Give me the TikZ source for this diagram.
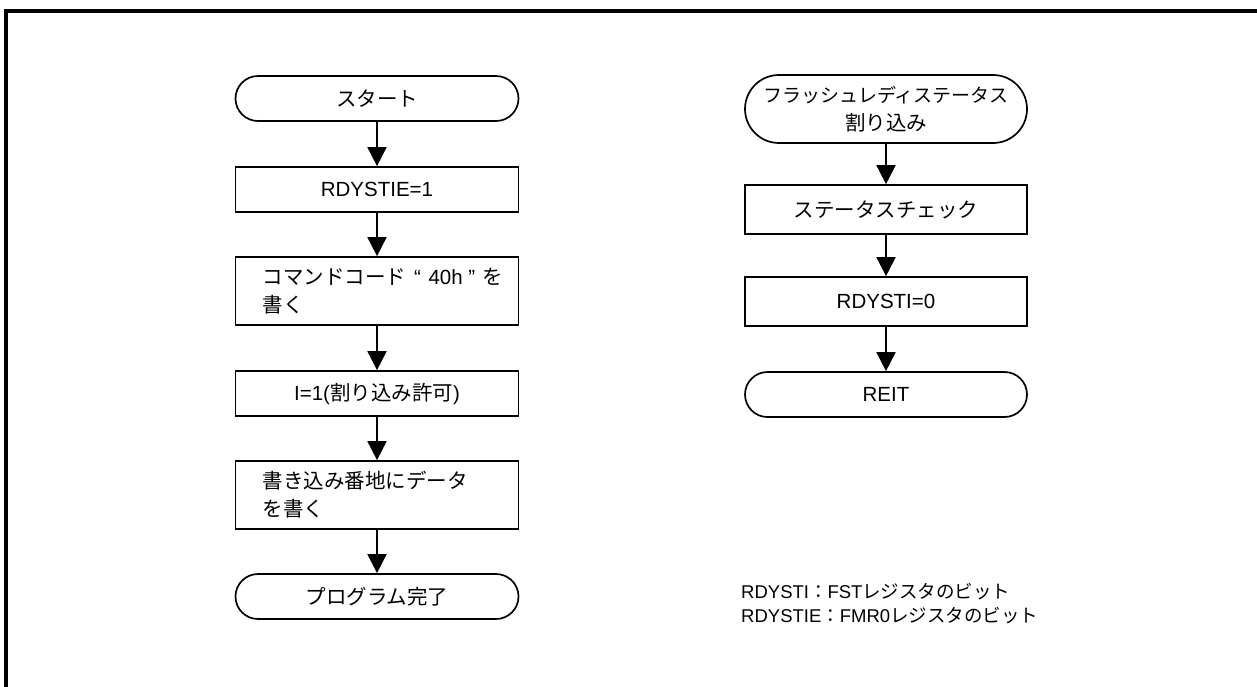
\documentclass[tikz,border=0pt]{standalone}
\usepackage{fontspec}
\setmainfont{Liberation Sans}
\newfontfamily\cjk{Noto Sans CJK JP}[Scale=1.0]
\usetikzlibrary{arrows.meta}
\newcommand\jp[1]{{\cjk #1}}
\newcommand\fszmain{\fontsize{20.5}{28}\selectfont}
\newcommand\fsznote{\fontsize{18.5}{24}\selectfont}
\tikzset{
  box/.style={draw, line width=1.7pt, minimum width=283pt, minimum height=45pt, inner sep=0pt, font=\fszmain, align=center},
  term/.style={box, rounded corners=22.5pt},
  tallterm/.style={box, minimum height=68pt, rounded corners=34pt},
  txt/.style={inner sep=0pt, font=\fszmain, align=left, anchor=west},
  note/.style={inner sep=0pt, font=\fsznote, align=left, anchor=west},
  arr/.style={-{Triangle[width=19pt,length=19pt]}, line width=1.7pt}
}
\begin{document}
\begin{tikzpicture}[x=1pt,y=-1pt]
\useasboundingbox (0,0) rectangle (1257,686);
\draw[line width=3.5pt] (1260,11) -- (6,11) -- (6,690);
% left column
\node[term] (s1) at (377,98.5) {\jp{スタート}};
\node[box] (b1) at (377,189.5) {RDYSTIE=1};
\node[box, minimum height=68pt] (b2) at (377,291) {};
\node[txt] (b2t) at ([xshift=28pt]b2.west) {\jp{コマンドコード}\hspace{2pt} “\hspace{2pt} 40h ” \hspace{2pt}\jp{を}\\\jp{書く}};
\node[box] (b3) at (377,393.5) {I=1(\jp{割り込み許可})};
\node[box, minimum height=68pt] (b4) at (377,495) {};
\node[txt] (b4t) at ([xshift=28pt]b4.west) {\jp{書き込み番地にデータ}\\\jp{を書く}};
\node[term] (e1) at (377,596.5) {\jp{プログラム完了}};
\draw[arr] (s1) -- (b1);
\draw[arr] (b1) -- (b2);
\draw[arr] (b2) -- (b3);
\draw[arr] (b3) -- (b4);
\draw[arr] (b4) -- (e1);
% right column
\node[tallterm, minimum width=282pt] (t2) at (886,109) {{\fontsize{19}{28}\selectfont\jp{フラッシュレディステータス}}\\\jp{割り込み}};
\node[box, minimum width=282pt, minimum height=49pt] (c1) at (886,209.5) {\jp{ステータスチェック}};
\node[box, minimum width=282pt, minimum height=49pt] (c2) at (886,301.5) {RDYSTI=0};
\node[term, minimum width=282pt] (c3) at (886,394.5) {REIT};
\draw[arr] (t2) -- (c1);
\draw[arr] (c1) -- (c2);
\draw[arr] (c2) -- (c3);
% notes
\node[note] (n1) at (741,604) {RDYSTI\jp{：}FST\jp{レジスタのビット}\\RDYSTIE\jp{：}FMR0\jp{レジスタのビット}};
\end{tikzpicture}
\end{document}
